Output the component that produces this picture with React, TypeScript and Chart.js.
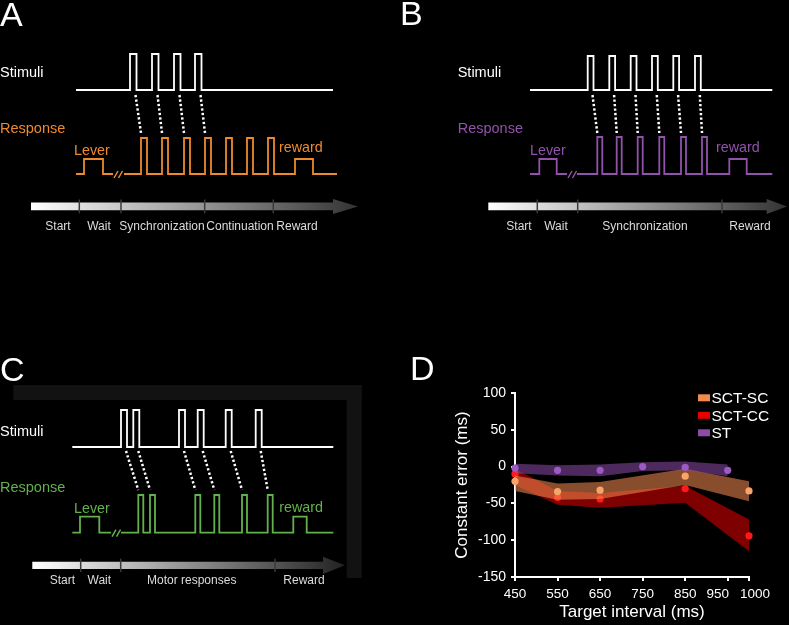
import React, { useEffect, useRef } from 'react';
import { Chart, registerables } from 'chart.js';

Chart.register(...registerables);

const FONT = '"Liberation Sans", Arial, Helvetica, sans-serif';

// ---------------- Panel A : synchronization-continuation task ----------------
const A_STIM_ONSETS = [130, 152, 174, 195];
const A_RESP_ONSETS = [141, 162, 184, 205, 226, 247, 268];
const A_LEVER = [84, 103];
const A_REWARD = [295, 313];
const A_PHASES = ['Start', 'Wait', 'Synchronization', 'Continuation', 'Reward'];
const A_PHASE_CENTERS = [58, 99, 162, 240, 297];
const A_PHASE_BOUNDS = [79.3, 121, 204.7, 273.3];

// ---------------- Panel B : synchronization task ----------------
const B_STIM_ONSETS = [187.7, 209.3, 230.7, 252, 273.3, 295];
const B_RESP_ONSETS = [197.3, 216.7, 237.7, 259.3, 281, 302];
const B_LEVER = [139.3, 156.7];
const B_REWARD = [329.3, 346.7];
const B_PHASES = ['Start', 'Wait', 'Synchronization', 'Reward'];
const B_PHASE_CENTERS = [119, 156, 245, 350];
const B_PHASE_BOUNDS = [137.3, 177.7, 322];

// ---------------- Panel C : serial reaction time task ----------------
const C_STIM_ONSETS = [121, 133.3, 179, 197.7, 225.7, 255.7];
const C_RESP_ONSETS = [138.3, 150, 195.3, 214.3, 242, 267.7];
const C_LEVER = [80, 99.3];
const C_REWARD = [293.3, 306.7];
const C_PHASES = ['Start', 'Wait', 'Motor responses', 'Reward'];
const C_PHASE_CENTERS = [62.3, 99.3, 191.7, 304];
const C_PHASE_BOUNDS = [80.7, 120.7, 275];

// ---------------- Panel D : constant error ----------------
const SCT_INTERVALS = [450, 550, 650, 850, 1000];
const ST_INTERVALS = [450, 550, 650, 750, 850, 950];
const SC_MEAN = [-20, -34, -32, -13, -33];
const SC_HIGH = [-12, -23, -21, -3, -20];
const SC_LOW = [-33, -45, -44, -25, -47];
const CC_MEAN = [-10, -42, -44, -30, -94];
const CC_HIGH = [-3, -33, -36, -26, -72];
const CC_LOW = [-25, -52, -56, -49, -115];
const ST_MEAN = [-2, -5, -5, 0, -1, -5];
const ST_HIGH = [4, 2, 3, 6, 7, 3];
const ST_LOW = [-9, -12, -13, -6, -5, -13];
const X_TICKS = [450, 550, 650, 750, 850, 950, 1000];
const X_TICK_NUDGE = [0, 0, 0, 0, 0, -10, 6];
const Y_TICKS = [-150, -100, -50, 0, 50, 100];
const SERIES_NAMES = ['SCT-SC', 'SCT-CC', 'ST'];
const SERIES_LEGEND_COLORS = ['#f08c50', '#e60000', '#8a4ca8'];

type Pulse = [number, number, number];

type Spec = {
  left: number; top: number; w: number; h: number;
  letter: string; letterPos: [number, number];
  respColor: string;
  stim: { x0: number; x1: number; base: number; top: number; w: number; onsets: number[] };
  resp: {
    x0: number; x1: number; base: number; top: number; w: number; onsets: number[];
    lever: number[]; reward: number[]; smallTop: number; brk: [number, number];
  };
  dots: [number, number];
  text: { stimuli: [number, number]; response: [number, number]; lever: [number, number]; reward: [number, number] };
  timeline: {
    x0: number; xHead: number; xTip: number; yTop: number; yBot: number; headTop: number; headBot: number;
    bounds: number[]; names: string[]; centers: number[]; labelY: number; endColor: string;
  };
  frame?: { x0: number; x1: number; y0: number; y1: number; band: number; bandTop: number };
};

const SPEC_A: Spec = {
  left: 0, top: 0, w: 395, h: 250,
  letter: 'A', letterPos: [0, 26], respColor: '#ee8a2e',
  stim: { x0: 76, x1: 333, base: 90, top: 54, w: 6.5, onsets: A_STIM_ONSETS },
  resp: { x0: 76, x1: 337, base: 174, top: 138, w: 6, onsets: A_RESP_ONSETS, lever: A_LEVER, reward: A_REWARD, smallTop: 159, brk: [113, 124] },
  dots: [95, 133],
  text: { stimuli: [0, 77], response: [0, 133], lever: [74, 155], reward: [279, 152] },
  timeline: { x0: 31, xHead: 333, xTip: 358, yTop: 202.5, yBot: 210.3, headTop: 199, headBot: 214,
    bounds: A_PHASE_BOUNDS, names: A_PHASES, centers: A_PHASE_CENTERS, labelY: 230, endColor: '#333333' },
};

const SPEC_B: Spec = {
  left: 400, top: 0, w: 389, h: 250,
  letter: 'B', letterPos: [0, 25], respColor: '#9152ab',
  stim: { x0: 130, x1: 372.3, base: 90, top: 56, w: 5.8, onsets: B_STIM_ONSETS },
  resp: { x0: 130, x1: 372.3, base: 174, top: 137, w: 5, onsets: B_RESP_ONSETS, lever: B_LEVER, reward: B_REWARD, smallTop: 159, brk: [167, 177] },
  dots: [95, 133],
  text: { stimuli: [57.7, 77], response: [57.7, 133], lever: [130, 155], reward: [316, 152] },
  timeline: { x0: 88.3, xHead: 366.7, xTip: 387, yTop: 202.5, yBot: 210.3, headTop: 199, headBot: 214,
    bounds: B_PHASE_BOUNDS, names: B_PHASES, centers: B_PHASE_CENTERS, labelY: 230, endColor: '#333333' },
};

const SPEC_C: Spec = {
  left: 0, top: 285, w: 400, h: 340,
  letter: 'C', letterPos: [0, 96], respColor: '#63b14c',
  stim: { x0: 72.3, x1: 333.3, base: 162, top: 125, w: 6, onsets: C_STIM_ONSETS },
  resp: { x0: 72.3, x1: 333.3, base: 247.7, top: 210, w: 5, onsets: C_RESP_ONSETS, lever: C_LEVER, reward: C_REWARD, smallTop: 231.7, brk: [111, 121] },
  dots: [166, 205],
  text: { stimuli: [0, 150.5], response: [0, 206.7], lever: [74, 228.3], reward: [279.3, 226.7] },
  timeline: { x0: 32.3, xHead: 323, xTip: 345, yTop: 276.7, yBot: 284, headTop: 271.7, headBot: 289,
    bounds: C_PHASE_BOUNDS, names: C_PHASES, centers: C_PHASE_CENTERS, labelY: 299, endColor: '#222222' },
  frame: { x0: 13.3, x1: 361.7, y0: 100, y1: 293, band: 15, bandTop: 15 },
};

function stepTrain(x0: number, x1: number, base: number, pulses: Pulse[]) {
  const pts: { x: number; y: number }[] = [{ x: x0, y: base }];
  pulses.forEach(([a, b, t]) => {
    pts.push({ x: a, y: base }, { x: a, y: t }, { x: b, y: t }, { x: b, y: base });
  });
  pts.push({ x: x1, y: base });
  return pts;
}

function lineDs(data: { x: number; y: number }[], color: string, extra: any = {}) {
  return {
    data, showLine: true, borderColor: color, borderWidth: 1.8, pointRadius: 0,
    fill: false, tension: 0, borderJoinStyle: 'miter', clip: false, ...extra,
  };
}

function makeDecor(spec: Spec) {
  return {
    id: 'decor' + spec.letter,
    beforeDatasetsDraw(chart: any) {
      const { ctx } = chart;
      const px = (v: number) => chart.scales.x.getPixelForValue(v);
      const py = (v: number) => chart.scales.y.getPixelForValue(v);
      ctx.save();
      if (spec.frame) {
        const f = spec.frame;
        ctx.fillStyle = '#121212';
        ctx.fillRect(px(f.x0), py(f.y0), px(f.x1) - px(f.x0), py(f.y0 + f.bandTop) - py(f.y0));
        ctx.fillRect(px(f.x1 - f.band), py(f.y0), px(f.x1) - px(f.x1 - f.band), py(f.y1) - py(f.y0));
      }
      const t = spec.timeline;
      const g = ctx.createLinearGradient(px(t.x0), 0, px(t.xTip), 0);
      g.addColorStop(0, '#ffffff');
      g.addColorStop(1, t.endColor);
      ctx.fillStyle = g;
      const mid = (t.yTop + t.yBot) / 2;
      ctx.beginPath();
      ctx.moveTo(px(t.x0), py(t.yTop));
      ctx.lineTo(px(t.xHead), py(t.yTop));
      ctx.lineTo(px(t.xHead), py(t.headTop));
      ctx.lineTo(px(t.xTip), py(mid));
      ctx.lineTo(px(t.xHead), py(t.headBot));
      ctx.lineTo(px(t.xHead), py(t.yBot));
      ctx.lineTo(px(t.x0), py(t.yBot));
      ctx.closePath();
      ctx.fill();
      ctx.strokeStyle = '#3a3a3a';
      ctx.lineWidth = 1.5;
      t.bounds.forEach((b) => {
        ctx.beginPath();
        ctx.moveTo(px(b), py(t.yTop - 3));
        ctx.lineTo(px(b), py(t.yBot + 3));
        ctx.stroke();
      });
      ctx.fillStyle = '#dcdcdc';
      ctx.font = `12px ${FONT}`;
      ctx.textAlign = 'center';
      ctx.textBaseline = 'alphabetic';
      t.names.forEach((n, i) => ctx.fillText(n, px(t.centers[i]), py(t.labelY)));
      ctx.restore();
    },
    afterDatasetsDraw(chart: any) {
      const { ctx } = chart;
      const px = (v: number) => chart.scales.x.getPixelForValue(v);
      const py = (v: number) => chart.scales.y.getPixelForValue(v);
      ctx.save();
      ctx.textAlign = 'left';
      ctx.textBaseline = 'alphabetic';
      ctx.fillStyle = '#ffffff';
      ctx.font = `34px ${FONT}`;
      ctx.fillText(spec.letter, px(spec.letterPos[0]), py(spec.letterPos[1]));
      ctx.font = `14.5px ${FONT}`;
      ctx.fillText('Stimuli', px(spec.text.stimuli[0]), py(spec.text.stimuli[1]));
      ctx.fillStyle = spec.respColor;
      ctx.fillText('Response', px(spec.text.response[0]), py(spec.text.response[1]));
      ctx.font = `14.3px ${FONT}`;
      ctx.fillText('Lever', px(spec.text.lever[0]), py(spec.text.lever[1]));
      ctx.fillText('reward', px(spec.text.reward[0]), py(spec.text.reward[1]));
      ctx.restore();
    },
  };
}

function schematicConfig(spec: Spec): any {
  const s = spec.stim;
  const r = spec.resp;
  const stimPulses: Pulse[] = s.onsets.map((o) => [o, o + s.w, s.top]);
  const respPulses: Pulse[] = r.onsets.map((o) => [o, o + r.w, r.top]);
  const datasets: any[] = [];
  datasets.push(lineDs(stepTrain(s.x0, s.x1, s.base, stimPulses), '#ffffff'));
  datasets.push(lineDs(stepTrain(r.x0, r.brk[0], r.base, [[r.lever[0], r.lever[1], r.smallTop]]), spec.respColor));
  datasets.push(lineDs(stepTrain(r.brk[1], r.x1, r.base, [...respPulses, [r.reward[0], r.reward[1], r.smallTop]]), spec.respColor));
  const b0 = r.brk[0];
  datasets.push(lineDs([{ x: b0 + 1, y: r.base + 4 }, { x: b0 + 5, y: r.base - 3 }], spec.respColor, { borderWidth: 1.5 }));
  datasets.push(lineDs([{ x: b0 + 5.5, y: r.base + 4 }, { x: b0 + 9.5, y: r.base - 3 }], spec.respColor, { borderWidth: 1.5 }));
  s.onsets.forEach((o, i) => {
    datasets.push(lineDs(
      [{ x: o + s.w - 1, y: spec.dots[0] }, { x: r.onsets[i], y: spec.dots[1] }],
      '#ffffff',
      { borderWidth: 2.5, borderDash: [2.3, 2.2], borderCapStyle: 'butt' },
    ));
  });
  return {
    type: 'scatter',
    data: { datasets },
    options: {
      animation: false,
      responsive: false,
      events: [],
      layout: { padding: 0 },
      plugins: { legend: { display: false }, tooltip: { enabled: false } },
      scales: {
        x: { type: 'linear', min: 0, max: spec.w, display: false },
        y: { type: 'linear', min: 0, max: spec.h, reverse: true, display: false },
      },
    },
    plugins: [makeDecor(spec)],
  };
}

function Schematic({ spec }: { spec: Spec }) {
  const ref = useRef<HTMLCanvasElement>(null);
  useEffect(() => {
    const chart = new Chart(ref.current as HTMLCanvasElement, schematicConfig(spec));
    return () => chart.destroy();
  }, [spec]);
  return (
    <canvas
      ref={ref}
      width={spec.w}
      height={spec.h}
      style={{ position: 'absolute', left: spec.left, top: spec.top, width: spec.w, height: spec.h, display: 'block' }}
    />
  );
}

const toXY = (xs: number[], ys: number[]) => xs.map((x, i) => ({ x, y: ys[i] }));

const panelDDecor = {
  id: 'panelDDecor',
  afterDraw(chart: any) {
    const { ctx, chartArea } = chart;
    const xs = chart.scales.x;
    ctx.save();
    ctx.fillStyle = '#ffffff';
    ctx.textBaseline = 'alphabetic';
    ctx.textAlign = 'left';
    ctx.font = `34px ${FONT}`;
    ctx.fillText('D', 10, 90);
    // x tick labels (nudged like the original figure)
    ctx.font = `13.5px ${FONT}`;
    ctx.textAlign = 'center';
    X_TICKS.forEach((v, i) => {
      ctx.fillText(String(v), xs.getPixelForValue(v) + X_TICK_NUDGE[i], chartArea.bottom + 20.5);
    });
    // legend
    ctx.font = `15.5px ${FONT}`;
    ctx.textAlign = 'left';
    SERIES_NAMES.forEach((name, i) => {
      const base = chartArea.top + 10.3 + i * 17.5;
      ctx.fillStyle = SERIES_LEGEND_COLORS[i];
      ctx.fillRect(chartArea.right - 51, base - 9, 12, 7);
      ctx.fillStyle = '#ffffff';
      ctx.fillText(name, chartArea.right - 37.5, base);
    });
    ctx.restore();
  },
};

function bandDs(xs: number[], ys: number[], color: string, order: number, fill: any) {
  return {
    data: toXY(xs, ys), borderColor: 'transparent', borderWidth: 0, pointRadius: 0,
    backgroundColor: color, fill, order, tension: 0, clip: false,
  };
}

function pointDs(xs: number[], ys: number[], color: string, order: number) {
  return {
    data: toXY(xs, ys), showLine: false, pointRadius: 3.6, pointBorderWidth: 0,
    pointBackgroundColor: color, borderColor: color, backgroundColor: color, order, clip: false,
  };
}

function PanelD() {
  const ref = useRef<HTMLCanvasElement>(null);
  useEffect(() => {
    const axisCommon = {
      border: { display: true, color: '#ffffff', width: 2 },
      grid: { display: true, drawOnChartArea: false, drawTicks: true, tickLength: 4, color: '#ffffff', lineWidth: 2 },
    };
    const chart = new Chart(ref.current as HTMLCanvasElement, {
      type: 'line',
      data: {
        datasets: [
          pointDs(ST_INTERVALS, ST_MEAN, '#9d5ac4', 0),
          bandDs(ST_INTERVALS, ST_HIGH, 'rgba(140,75,170,0.55)', 1, '+1'),
          bandDs(ST_INTERVALS, ST_LOW, 'rgba(0,0,0,0)', 1, false),
          pointDs(SCT_INTERVALS, SC_MEAN, '#f7a46a', 2),
          bandDs(SCT_INTERVALS, SC_HIGH, 'rgba(245,140,80,0.55)', 3, '+1'),
          bandDs(SCT_INTERVALS, SC_LOW, 'rgba(0,0,0,0)', 3, false),
          pointDs(SCT_INTERVALS, CC_MEAN, '#ff1a1a', 4),
          bandDs(SCT_INTERVALS, CC_HIGH, 'rgba(230,0,0,0.55)', 5, '+1'),
          bandDs(SCT_INTERVALS, CC_LOW, 'rgba(0,0,0,0)', 5, false),
        ] as any,
      },
      options: {
        animation: false,
        responsive: false,
        events: [],
        layout: { padding: { top: 103, right: 40, left: 0, bottom: 0 } },
        plugins: { legend: { display: false }, tooltip: { enabled: false } },
        scales: {
          x: {
            type: 'linear', min: 450, max: 1000,
            afterBuildTicks: (s: any) => { s.ticks = X_TICKS.map((v) => ({ value: v })); },
            afterFit: (s: any) => { s.height = 48; },
            ...axisCommon,
            ticks: { display: false },
            title: { display: true, text: 'Target interval (ms)', color: '#ffffff', font: { family: FONT, size: 17 }, padding: { top: 0, bottom: 2 } },
          },
          y: {
            type: 'linear', min: -150, max: 100,
            afterBuildTicks: (s: any) => { s.ticks = Y_TICKS.map((v) => ({ value: v })); },
            afterFit: (s: any) => { s.width = 115; },
            ...axisCommon,
            ticks: { color: '#ffffff', font: { family: FONT, size: 14 }, padding: 5 },
            title: { display: true, text: 'Constant error (ms)', color: '#ffffff', font: { family: FONT, size: 17 }, padding: { top: 52, bottom: 0 } },
          },
        },
      } as any,
      plugins: [panelDDecor],
    });
    return () => chart.destroy();
  }, []);
  return (
    <canvas
      ref={ref}
      width={389}
      height={335}
      style={{ position: 'absolute', left: 400, top: 290, width: 389, height: 335, display: 'block' }}
    />
  );
}

export default function App() {
  useEffect(() => {
    document.body.style.margin = '0';
    document.body.style.background = '#000';
  }, []);
  return (
    <div style={{ position: 'fixed', left: 0, top: 0, width: 789, height: 625, background: '#000', overflow: 'hidden' }}>
      <Schematic spec={SPEC_A} />
      <Schematic spec={SPEC_B} />
      <Schematic spec={SPEC_C} />
      <PanelD />
    </div>
  );
}
